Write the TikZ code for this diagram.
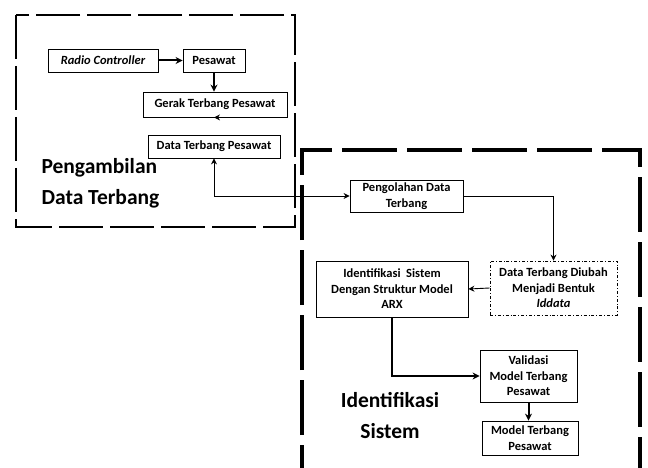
\documentclass[tikz,border=0pt]{standalone}
\usepackage{fontspec}
\setmainfont{Carlito}
\usetikzlibrary{arrows.meta}
\begin{document}
\begin{tikzpicture}[x=1pt,y=-1pt,
  box/.style={draw=black, line width=0.8pt, inner sep=1pt, align=center,
    font=\fontsize{12.5}{15.5}\selectfont\bfseries},
  arr/.style={line width=0.9pt, -{Stealth[length=6pt,width=6pt]}},
  tarr/.style={line width=2pt, -{Stealth[length=7pt,width=7pt]}},
  biglabel/.style={font=\fontsize{21.5}{31}\selectfont\bfseries},
  groupL/.style={draw=black, line width=2.5pt, dash pattern=on 44pt off 7pt},
  groupR/.style={draw=black, line width=4pt, dash pattern=on 55pt off 10pt}]
\clip (0,0) rectangle (648,468);
\fill[white] (0,0) rectangle (648,468);

% group frames
\draw[groupL] (16,15) rectangle (295,227);
\draw[groupR] (302,500) -- (302,150) -- (640,150) -- (640,500);

% left group nodes
\node[box, minimum width=110pt, minimum height=23pt, font=\fontsize{12.5}{15}\selectfont\bfseries\itshape] (rc) at (103,60.5) {Radio Controller};
\node[box, minimum width=62pt, minimum height=23pt] (pes) at (214,60.5) {Pesawat};
\node[box, minimum width=144pt, minimum height=25pt] (gerak) at (215,104.5) {Gerak Terbang Pesawat};
\node[box, minimum width=132pt, minimum height=23pt] (dtp) at (214,146.5) {Data Terbang Pesawat};
\node[biglabel, align=left, anchor=west] (lblL) at (38,183) {Pengambilan\\Data Terbang};

% right group nodes
\node[box, minimum width=113pt, minimum height=32pt] (olah) at (406.5,196) {Pengolahan Data\\Terbang};
\node[box, minimum width=152pt, minimum height=56pt] (arx) at (392,289) {Identifikasi\ \ Sistem\\Dengan Struktur Model\\ARX};
\node[box, dash dot, minimum width=127pt, minimum height=54pt] (ubah) at (553.5,288) {Data Terbang Diubah\\Menjadi Bentuk\\\textit{Iddata}};
\node[box, minimum width=97pt, minimum height=52pt] (val) at (528.5,376) {Validasi\\Model Terbang\\Pesawat};
\node[box, minimum width=96pt, minimum height=34pt] (model) at (530,438) {Model Terbang\\Pesawat};
\node[biglabel, align=center] (lblR) at (390,416) {Identifikasi\\Sistem};

% connectors
\draw[tarr] (rc.east) -- (pes.west);
\draw[tarr] (pes.south) -- (pes.south |- gerak.north);
\draw[arr] (gerak.south) -- (gerak.south -| dtp.north);
\draw[arr, {Stealth[length=6pt,width=6pt]}-{Stealth[length=6pt,width=6pt]}] (dtp.south) |- (olah.west);
\draw[arr] (olah.east) -| (ubah.north);
\draw[arr] (ubah.west) -- (arx.east);
\draw[tarr] (arx.south) |- (val.west);
\draw[tarr] (val.south) -- (val.south |- model.north);
\end{tikzpicture}
\end{document}
